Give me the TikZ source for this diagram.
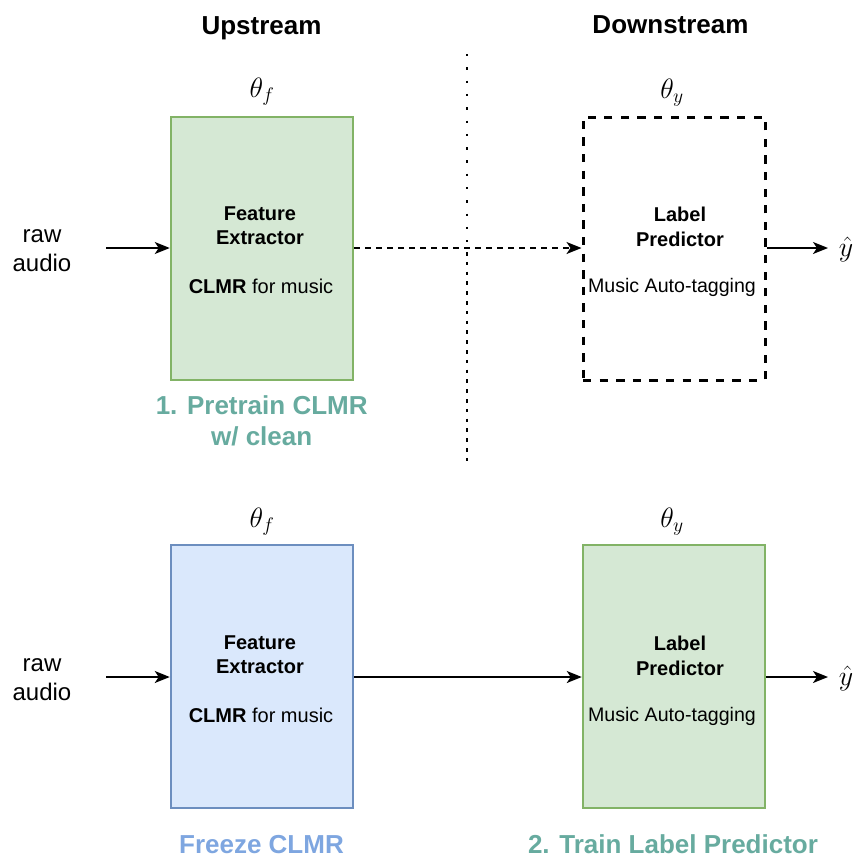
\RequirePackage{fix-cm}
\documentclass[tikz,border=0pt]{standalone}
\usepackage{fontspec}
\setmainfont{Liberation Sans}
\usetikzlibrary{arrows.meta}
\definecolor{gfill}{HTML}{D5E8D4}
\definecolor{gline}{HTML}{82B366}
\definecolor{bfill}{HTML}{DAE8FC}
\definecolor{bline}{HTML}{6C8EBF}
\definecolor{teal}{HTML}{67AB9F}
\definecolor{lblue}{HTML}{7EA6E0}
\begin{document}
\begin{tikzpicture}[x=1pt,y=-1pt,
  txt/.style={anchor=base,inner sep=0pt,font=\fontsize{20}{24}\selectfont},
  btxt/.style={txt,font=\fontsize{20}{24}\selectfont\bfseries},
  big/.style={anchor=base,inner sep=0pt,font=\fontsize{26}{31}\selectfont\bfseries},
  side/.style={anchor=base,inner sep=0pt,font=\fontsize{24}{29}\selectfont},
  mth/.style={anchor=base,inner sep=0pt,font=\fontsize{28}{33}\selectfont},
  gbox/.style={draw=gline,fill=gfill,line width=2.5pt,minimum width=182pt,minimum height=263pt,inner sep=0pt},
  bbox/.style={draw=bline,fill=bfill,line width=2.5pt,minimum width=182pt,minimum height=263pt,inner sep=0pt},
  dbox/.style={draw=black,line width=3pt,dash pattern=on 8.3pt off 8.3pt,minimum width=182pt,minimum height=263pt,inner sep=0pt},
  arr/.style={line width=1.6pt,-{Stealth[length=15pt,width=12pt,inset=4pt]}},
]
\useasboundingbox (0,0) rectangle (856,857);

% titles
\node[big] (up) at (261.5,34.3) {Upstream};
\node[big] (down) at (670.5,33.5) {Downstream};

% separator
\coordinate (s1) at (466.7,54);
\coordinate (s2) at (466.7,242);
\coordinate (s3) at (466.7,252);
\coordinate (s4) at (466.7,462);
\draw[line width=2.2pt,dash pattern=on 2.4pt off 10.9pt] (s1) -- (s2);
\draw[line width=1.8pt,dash pattern=on 3.6pt off 6.2pt] (s3) -- (s4);

% ---------- top row ----------
\node[mth] (tf1) at (262,97) {$\theta_f$};
\node[mth] (ty1) at (672,98.3) {$\theta_y$};

\node[gbox] (fe1) at (262,248.5) {};
\node[dbox] (lp1) at (674,248.5) {};

\node[btxt] (fe1a) at (260,220) {Feature};
\node[btxt] (fe1b) at (260,244) {Extractor};
\node[txt] (fe1c) at (261,293.3) {\textbf{CLMR} for music};

\node[btxt] (lp1a) at (680,221) {Label};
\node[btxt] (lp1b) at (680,246) {Predictor};
\node[txt,font=\fontsize{19.6}{24}\selectfont] (lp1c) at (672,292.7) {Music Auto-tagging};

\node[side] (raw1a) at (42,242) {raw};
\node[side] (raw1b) at (42,271) {audio};
\coordinate (in1) at (106,248);
\draw[arr] (in1) -- (fe1.west |- in1);
\draw[arr,dash pattern=on 6pt off 5pt] (fe1.east |- in1) -- (lp1.west |- in1);
\coordinate (out1) at (828,248);
\draw[arr] (lp1.east |- out1) -- (out1);
\node[mth] (yh1) at (846,256) {$\hat{y}$};

\node[big,text=teal] (lab1a) at (261.7,414.3) {1. Pretrain CLMR};
\node[big,text=teal] (lab1b) at (261.7,445.3) {w/ clean};

% ---------- bottom row ----------
\node[mth] (tf2) at (262,527) {$\theta_f$};
\node[mth] (ty2) at (672,527) {$\theta_y$};

\node[bbox] (fe2) at (262,676.5) {};
\node[gbox] (lp2) at (674,676.5) {};

\node[btxt] (fe2a) at (260,649) {Feature};
\node[btxt] (fe2b) at (260,673) {Extractor};
\node[txt] (fe2c) at (261,722) {\textbf{CLMR} for music};

\node[btxt] (lp2a) at (680,650) {Label};
\node[btxt] (lp2b) at (680,675) {Predictor};
\node[txt,font=\fontsize{19.6}{24}\selectfont] (lp2c) at (672,721.5) {Music Auto-tagging};

\node[side] (raw2a) at (42,671) {raw};
\node[side] (raw2b) at (42,700) {audio};
\coordinate (in2) at (106,677);
\draw[arr] (in2) -- (fe2.west |- in2);
\draw[arr] (fe2.east |- in2) -- (lp2.west |- in2);
\coordinate (out2) at (828,677);
\draw[arr] (lp2.east |- out2) -- (out2);
\node[mth] (yh2) at (846,685) {$\hat{y}$};

\node[big,text=lblue] (lab2) at (261.5,853) {Freeze CLMR};
\node[big,text=teal] (lab3) at (673,853) {2. Train Label Predictor};
\end{tikzpicture}
\end{document}
